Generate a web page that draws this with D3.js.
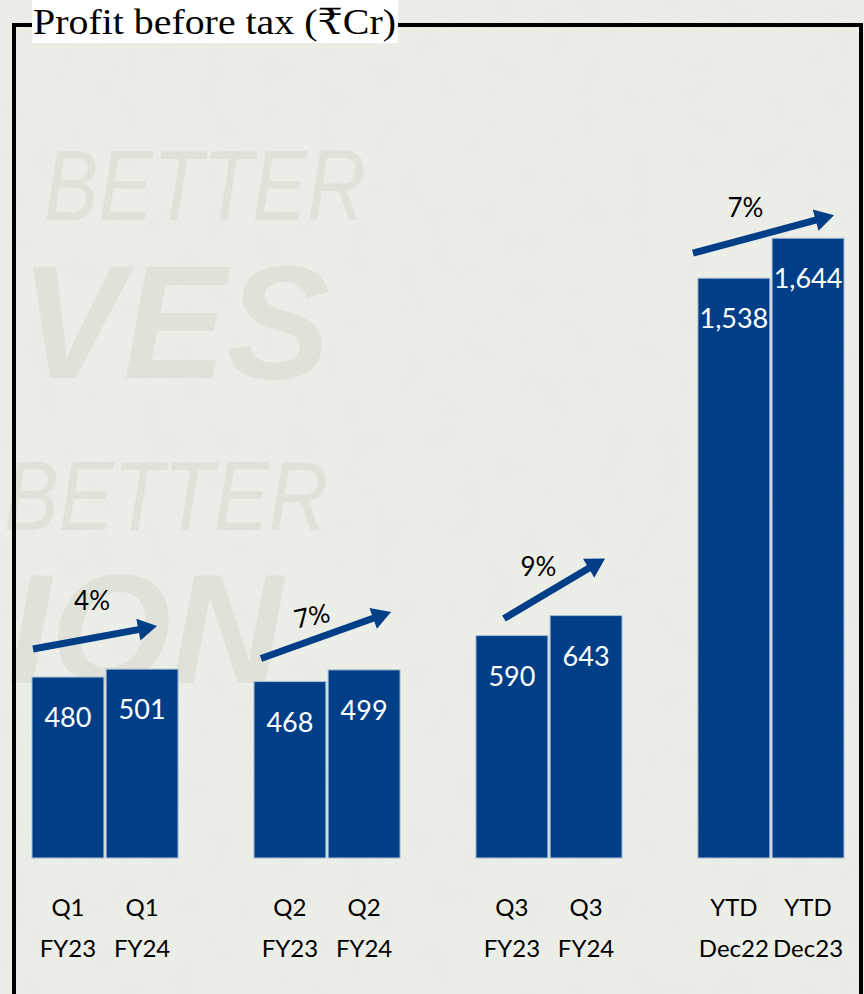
<!DOCTYPE html>
<html>
<head>
<meta charset="utf-8">
<script src="https://cdn.jsdelivr.net/npm/d3@7"></script>
<style>
html,body{margin:0;padding:0;background:#eceee7;}
svg{display:block;}
</style>
</head>
<body>
<svg id="chart" width="864" height="994"></svg>
<script>
// ---- data ----
const groups = ["Q1", "Q2", "Q3", "YTD"];
const periods = ["prev", "curr"];
const categoryLines = [
  ["Q1", "FY23"], ["Q1", "FY24"],
  ["Q2", "FY23"], ["Q2", "FY24"],
  ["Q3", "FY23"], ["Q3", "FY24"],
  ["YTD", "Dec22"], ["YTD", "Dec23"]
];
const values = [480, 501, 468, 499, 590, 643, 1538, 1644];
const valueLabels = ["480", "501", "468", "499", "590", "643", "1,538", "1,644"];
const growthLabels = ["4%", "7%", "9%", "7%"];
const title = "Profit before tax (₹Cr)";

// ---- layout (annotation placement, not data) ----
const arrowLayout = [
  { tail: [1, -28], head: [-21, -43], label: [-3, -37], rot: 0 },
  { tail: [7, -23], head: [-9, -58], label: [-14, -19], rot: -12 },
  { tail: [28, -17], head: [-17, -57], label: [-16, -22], rot: 0 },
  { tail: [-5, -25], head: [-10, -23], label: [-18, -26], rot: 0 }
];

const W = 864, H = 994;
const svg = d3.select("#chart");
const blue = "#003f88";

// background texture
const defs = svg.append("defs");
const f = defs.append("filter").attr("id", "paper").attr("x", 0).attr("y", 0).attr("width", "100%").attr("height", "100%");
f.append("feTurbulence").attr("type", "fractalNoise").attr("baseFrequency", "0.035").attr("numOctaves", 3).attr("seed", 4).attr("result", "n");
f.append("feColorMatrix").attr("in", "n").attr("type", "matrix")
  .attr("values", "0 0 0 0 0.55  0 0 0 0 0.57  0 0 0 0 0.52  0 0 0 0.10 0");
svg.append("rect").attr("width", W).attr("height", H).attr("fill", "#edefe8");
svg.append("rect").attr("width", W).attr("height", H).attr("filter", "url(#paper)").attr("opacity", 0.9);

// watermark
const wm = svg.append("g").attr("fill", "#e0e2da").attr("font-family", "Liberation Sans, Arial, sans-serif").attr("font-style", "italic");
wm.append("text").attr("x", 44).attr("y", 220).attr("font-size", 100).attr("font-weight", 300)
  .attr("textLength", 322).attr("lengthAdjust", "spacingAndGlyphs").text("BETTER");
wm.append("text").attr("x", 20).attr("y", 378).attr("font-size", 162).attr("font-weight", 700)
  .attr("textLength", 310).attr("lengthAdjust", "spacingAndGlyphs").text("VES");
wm.append("text").attr("x", 4).attr("y", 530).attr("font-size", 98).attr("font-weight", 300)
  .attr("textLength", 324).attr("lengthAdjust", "spacingAndGlyphs").text("BETTER");
wm.append("text").attr("x", 283).attr("y", 683).attr("text-anchor", "end").attr("font-size", 155).attr("font-weight", 700).text("ION");

// frame
svg.append("rect").attr("x", 14).attr("y", 25).attr("width", 847).attr("height", 1000)
  .attr("fill", "none").attr("stroke", "#000").attr("stroke-width", 4);

// title
svg.append("rect").attr("x", 32).attr("y", 0).attr("width", 366).attr("height", 43).attr("fill", "#fff");
svg.append("text").attr("x", 33).attr("y", 34)
  .attr("font-family", "Liberation Serif, DejaVu Serif, serif").attr("font-size", 36)
  .attr("textLength", 363).attr("lengthAdjust", "spacingAndGlyphs")
  .attr("fill", "#000").text(title);

// scales
const x0 = d3.scaleBand().domain(groups).range([32, 844]).paddingInner(0.342).paddingOuter(0);
const x1 = d3.scaleBand().domain(periods).range([0, x0.bandwidth()]).paddingInner(0.03);
const y = d3.scaleLinear().domain([0, 2000]).range([858, 104]);

const bars = values.map((v, i) => {
  const g = groups[Math.floor(i / 2)];
  const p = periods[i % 2];
  const xl = x0(g) + x1(p);
  return { v, i, x: xl, w: x1.bandwidth(), cx: xl + x1.bandwidth() / 2 };
});

const gb = svg.append("g");
gb.selectAll("rect").data(bars).join("rect")
  .attr("x", d => d.x).attr("y", d => y(d.v))
  .attr("width", d => d.w).attr("height", d => y(0) - y(d.v))
  .attr("fill", blue).attr("stroke", "#a9bcd6").attr("stroke-width", 1);

// value labels
svg.append("g").selectAll("text").data(bars).join("text")
  .attr("x", d => d.cx).attr("y", d => y(d.v) + 50)
  .attr("text-anchor", "middle").attr("fill", "#fff")
  .attr("font-family", "Lato, 'Open Sans', sans-serif").attr("font-size", 27)
  .text(d => valueLabels[d.i]);

// x axis labels (two lines)
const xl = svg.append("g").attr("font-family", "Lato, 'Open Sans', sans-serif").attr("font-size", 24).attr("fill", "#000");
xl.selectAll("text.l1").data(bars).join("text").attr("class", "l1")
  .attr("x", d => d.cx).attr("y", 916).attr("text-anchor", "middle").text(d => categoryLines[d.i][0]);
xl.selectAll("text.l2").data(bars).join("text").attr("class", "l2")
  .attr("x", d => d.cx).attr("y", 957).attr("text-anchor", "middle").text(d => categoryLines[d.i][1]);

// growth arrows
function arrowPath(x1p, y1p, x2p, y2p, sw, hw, hl) {
  const dx = x2p - x1p, dy = y2p - y1p, L = Math.hypot(dx, dy);
  const ux = dx / L, uy = dy / L, nx = -uy, ny = ux;
  const bx = x2p - ux * hl, by = y2p - uy * hl;
  const pts = [
    [x1p + nx * sw / 2, y1p + ny * sw / 2],
    [bx + nx * sw / 2, by + ny * sw / 2],
    [bx + nx * hw / 2, by + ny * hw / 2],
    [x2p, y2p],
    [bx - nx * hw / 2, by - ny * hw / 2],
    [bx - nx * sw / 2, by - ny * sw / 2],
    [x1p - nx * sw / 2, y1p - ny * sw / 2]
  ];
  return d3.line()(pts) + "Z";
}
const ga = svg.append("g");
groups.forEach((g, k) => {
  const a = bars[2 * k], b = bars[2 * k + 1], L = arrowLayout[k];
  const tx = a.x + L.tail[0], ty = y(a.v) + L.tail[1];
  const hx = b.x + b.w + L.head[0], hy = y(b.v) + L.head[1];
  ga.append("path").attr("d", arrowPath(tx, ty, hx, hy, 7, 22, 19)).attr("fill", blue);
  const mx = (tx + hx) / 2 + L.label[0], my = (ty + hy) / 2 + L.label[1];
  ga.append("text").attr("x", mx).attr("y", my).attr("dy", "0.35em")
    .attr("transform", `rotate(${L.rot},${mx},${my})`)
    .attr("text-anchor", "middle").attr("fill", "#000")
    .attr("font-family", "Lato, 'Open Sans', sans-serif").attr("font-size", 26)
    .text(growthLabels[k]);
});
</script>
</body>
</html>
